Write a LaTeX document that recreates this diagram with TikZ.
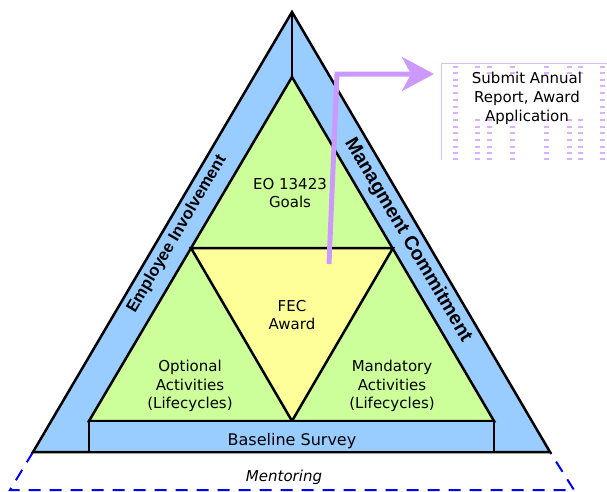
\documentclass[tikz,border=0pt]{standalone}
\usepackage{fontspec}
\setmainfont{DejaVu Sans}
\newfontfamily\sidefont{Liberation Sans}
\usetikzlibrary{arrows.meta}
\definecolor{bandblue}{HTML}{99CCFF}
\definecolor{leafgreen}{HTML}{CCFF99}
\definecolor{awardyellow}{HTML}{FFFF99}
\definecolor{arrowpurple}{HTML}{CC99FF}
\definecolor{boxpurple}{HTML}{DDBBFF}
\begin{document}
\begin{tikzpicture}[x=1pt,y=-1pt,
  outline/.style={draw=black,line width=2.5pt,line join=miter},
  lbl/.style={font=\fontsize{15}{18.5}\selectfont,align=center,inner sep=0pt,text=black},
  sidelblL/.style={font=\sidefont\bfseries\fontsize{16.6}{18}\selectfont,inner sep=0pt},
  sidelblR/.style={font=\sidefont\bfseries\fontsize{19.5}{20}\selectfont,inner sep=0pt},
  mentor/.style={draw=blue,line width=2pt,dash pattern=on 12pt off 9pt},
  hatch/.style={draw=arrowpurple!75,line width=1.3pt},
  flow/.style={draw=arrowpurple,line width=5pt,line join=miter,-{Stealth[length=32pt,width=34pt,inset=9pt]}}]
\useasboundingbox (0,0) rectangle (607,491);
% coordinates
\coordinate (apex) at (292,12);
\coordinate (bl) at (33,452);
\coordinate (br) at (550,452);
\coordinate (gapex) at (292,77);
\coordinate (gl) at (89,421);
\coordinate (gr) at (494,421);
\coordinate (yl) at (191,248);
\coordinate (yr) at (393,248);
\coordinate (ybot) at (292,421);
\coordinate (rbl) at (89,452);
\coordinate (rbr) at (494,452);
\coordinate (mbl) at (10,490);
\coordinate (mbr) at (574,490);
% mentoring dashed outline
\draw[mentor] (bl) -- (mbl) -- (mbr) -- (br);
% outer triangle
\filldraw[fill=bandblue,outline] (apex) -- (br) -- (bl) -- cycle;
\draw[outline] (apex) -- (gapex);
% green triangle
\filldraw[fill=leafgreen,outline] (gapex) -- (gr) -- (gl) -- cycle;
% yellow triangle
\filldraw[fill=awardyellow,outline] (yl) -- (yr) -- (ybot) -- cycle;
% baseline rectangle
\filldraw[fill=bandblue,outline] (gl) -- (gr) -- (rbr) -- (rbl) -- cycle;
% submit box
\draw[boxpurple,line width=1pt] (441,160) -- (441,63) -- (610,63);
\foreach \x in {453,600}
  \foreach \y in {67,73,80,86,93,100,107,113,120,127,133,140,147,153,159}
    \draw[hatch] (\x,\y) -- ++(5,0);
\foreach \x in {475,487,510,544,567,578}
  \foreach \y in {67,73,120,127,133,140,147,153,159}
    \draw[hatch] (\x,\y) -- ++(5,0);
% texts
\node[lbl] (goals) at (290,193) {EO 13423\\Goals};
\node[lbl] (fec) at (292,315) {FEC\\Award};
\node[lbl] (optional) at (190,386) {Optional\\Activities\\(Lifecycles)};
\node[lbl] (mandatory) at (392,386) {Mandatory\\Activities\\(Lifecycles)};
\node[lbl,font=\fontsize{16}{18}\selectfont] (baseline) at (292,441) {Baseline Survey};
\node[lbl,font=\itshape\fontsize{15}{18}\selectfont] (mentoring) at (284,477) {Mentoring};
\node[lbl,font=\fontsize{15}{19}\selectfont] (submit) at (527,98) {Submit Annual\\Report, Award\\Application};
\node[sidelblL,rotate=59.5] (employee) at (177,234) {Employee Involvement};
\node[sidelblR,rotate=-59.5] (management) at (408,240) {Managment Commitment};
% arrow
\coordinate (arrs) at (329,264);
\coordinate (arrc) at (337,74);
\coordinate (arrtip) at (434,74);
\draw[flow] (arrs) -- (arrc) -- (arrtip);
\end{tikzpicture}
\end{document}
